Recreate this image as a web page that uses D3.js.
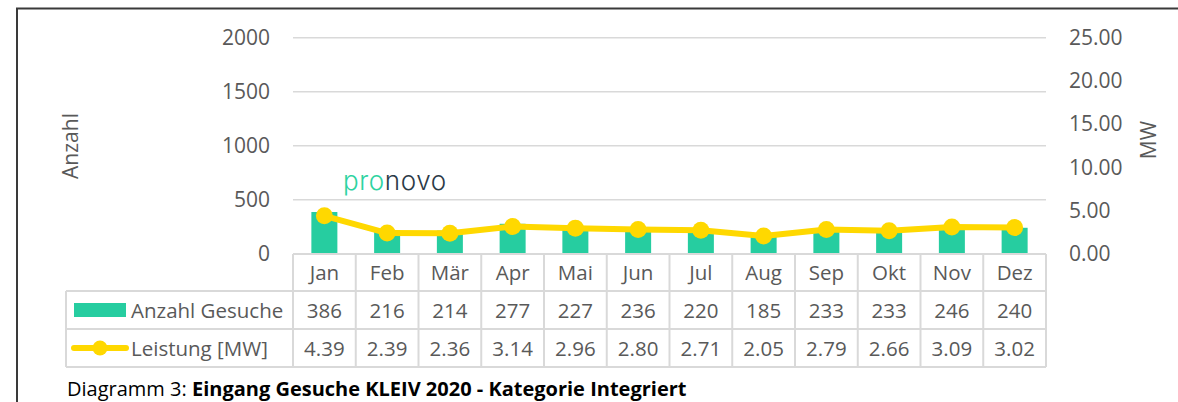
<!DOCTYPE html>
<html>
<head>
<meta charset="utf-8">
<script src="https://cdn.jsdelivr.net/npm/d3@7"></script>
<style>
  body { margin: 0; background: #fff; }
  svg { display: block; font-family: "Open Sans", sans-serif; }
</style>
</head>
<body>
<div id="chart"></div>
<script>
const width = 1178;
const height = 402;

const months = ["Jan", "Feb", "Mär", "Apr", "Mai", "Jun", "Jul", "Aug", "Sep", "Okt", "Nov", "Dez"];
const anzahl = [386, 216, 214, 277, 227, 236, 220, 185, 233, 233, 246, 240];
const leistung = [4.39, 2.39, 2.36, 3.14, 2.96, 2.80, 2.71, 2.05, 2.79, 2.66, 3.09, 3.02];
const leftTicks = [0, 500, 1000, 1500, 2000];
const rightTicks = [0, 5, 10, 15, 20, 25];
const seriesNames = ["Anzahl Gesuche", "Leistung [MW]"];

const barColor = "#26cda0";
const lineColor = "#ffd800";
const gridColor = "#d9d9d9";
const textColor = "#595959";

const plot = {left: 293, right: 1046, top: 37.7, bottom: 253.7};
const rows = [254, 291, 329, 367]; // table row edges
const tableLeft = 66;

const svg = d3.select("#chart").append("svg")
    .attr("width", width)
    .attr("height", height);

// outer frame (top and left only)
svg.append("path")
    .attr("d", `M17,${height} V8.5 H${width}`)
    .attr("fill", "none")
    .attr("stroke", "#3a3a3a")
    .attr("stroke-width", 2);

const x = d3.scaleBand().domain(months).range([plot.left, plot.right]).padding(0);
const yLeft = d3.scaleLinear().domain([0, 2000]).range([plot.bottom, plot.top]);
const yRight = d3.scaleLinear().domain([0, 25]).range([plot.bottom, plot.top]);

// gridlines
svg.append("g")
    .selectAll("line")
    .data(leftTicks.filter(d => d > 0))
    .join("line")
    .attr("x1", plot.left).attr("x2", plot.right)
    .attr("y1", d => yLeft(d)).attr("y2", d => yLeft(d))
    .attr("stroke", gridColor)
    .attr("stroke-width", 1.5);

// left axis
const leftAxis = svg.append("g")
    .attr("transform", `translate(${plot.left},0)`)
    .call(d3.axisLeft(yLeft).tickValues(leftTicks).tickSize(0).tickPadding(23).tickFormat(d3.format("d")));
leftAxis.select(".domain").remove();
leftAxis.selectAll("text")
    .attr("fill", textColor)
    .style("font-size", "21px")
    .style("font-family", "Open Sans");

// right axis
const rightAxis = svg.append("g")
    .attr("transform", `translate(${plot.right},0)`)
    .call(d3.axisRight(yRight).tickValues(rightTicks).tickSize(0).tickPadding(23).tickFormat(d3.format(".2f")));
rightAxis.select(".domain").remove();
rightAxis.selectAll("text")
    .attr("fill", textColor)
    .style("font-size", "21px")
    .style("font-family", "Open Sans");

// axis titles
svg.append("text")
    .attr("transform", `translate(78,146) rotate(-90)`)
    .attr("text-anchor", "middle")
    .attr("fill", textColor)
    .style("font-size", "21px")
    .text("Anzahl");
svg.append("text")
    .attr("transform", `translate(1156,140) rotate(-90)`)
    .attr("text-anchor", "middle")
    .attr("fill", textColor)
    .style("font-size", "21px")
    .text("MW");

// logo
const logo = svg.append("text")
    .attr("x", 343)
    .attr("y", 190)
    .style("font-family", "Inter")
    .style("font-size", "26px")
    .style("font-weight", 300)
    .style("letter-spacing", "0.6px");
logo.append("tspan").attr("fill", "#2ed3a1").text("pro");
logo.append("tspan").attr("fill", "#2b3a47").text("novo");

// bars
const barWidth = 26;
svg.append("g")
    .selectAll("rect")
    .data(anzahl)
    .join("rect")
    .attr("x", (d, i) => x(months[i]) + x.bandwidth() / 2 - barWidth / 2)
    .attr("y", d => yLeft(d))
    .attr("width", barWidth)
    .attr("height", d => yLeft(0) - yLeft(d))
    .attr("fill", barColor);

// line
const line = d3.line()
    .x((d, i) => x(months[i]) + x.bandwidth() / 2)
    .y(d => yRight(d));
svg.append("path")
    .attr("d", line(leistung))
    .attr("fill", "none")
    .attr("stroke", lineColor)
    .attr("stroke-width", 6)
    .attr("stroke-linejoin", "round");
svg.append("g")
    .selectAll("circle")
    .data(leistung)
    .join("circle")
    .attr("cx", (d, i) => x(months[i]) + x.bandwidth() / 2)
    .attr("cy", d => yRight(d))
    .attr("r", 8.5)
    .attr("fill", lineColor);

// data table
const table = svg.append("g")
    .attr("stroke", gridColor)
    .attr("stroke-width", 2)
    .attr("fill", "none");
table.append("line")
    .attr("x1", plot.left).attr("x2", plot.right)
    .attr("y1", rows[0]).attr("y2", rows[0]);
rows.slice(1).forEach(r => {
    table.append("line")
        .attr("x1", tableLeft).attr("x2", plot.right)
        .attr("y1", r).attr("y2", r);
});
table.append("line")
    .attr("x1", tableLeft).attr("x2", tableLeft)
    .attr("y1", rows[1]).attr("y2", rows[3]);
months.forEach(m => {
    table.append("line")
        .attr("x1", x(m)).attr("x2", x(m))
        .attr("y1", rows[0]).attr("y2", rows[3]);
});
table.append("line")
    .attr("x1", plot.right).attr("x2", plot.right)
    .attr("y1", rows[0]).attr("y2", rows[3]);

function rowText(values, rowIdx, fmt) {
    svg.append("g")
        .selectAll("text")
        .data(values)
        .join("text")
        .attr("x", (d, i) => x(months[i]) + x.bandwidth() / 2)
        .attr("y", (rows[rowIdx] + rows[rowIdx + 1]) / 2 + 7.5)
        .attr("text-anchor", "middle")
        .attr("fill", textColor)
        .style("font-size", "20.5px")
        .text(fmt);
}
rowText(months, 0, d => d);
rowText(anzahl, 1, d => d);
rowText(leistung, 2, d => d3.format(".2f")(d));

// legend keys
const rowMid1 = (rows[1] + rows[2]) / 2;
const rowMid2 = (rows[2] + rows[3]) / 2;
svg.append("rect")
    .attr("x", 74).attr("y", rowMid1 - 7)
    .attr("width", 52).attr("height", 14)
    .attr("fill", barColor);
svg.append("line")
    .attr("x1", 74).attr("x2", 126)
    .attr("y1", rowMid2).attr("y2", rowMid2)
    .attr("stroke", lineColor)
    .attr("stroke-width", 6)
    .attr("stroke-linecap", "round");
svg.append("circle")
    .attr("cx", 100).attr("cy", rowMid2)
    .attr("r", 7.5)
    .attr("fill", lineColor);
svg.append("text")
    .attr("x", 131).attr("y", rowMid1 + 7.5)
    .attr("fill", textColor)
    .style("font-size", "20.5px")
    .text(seriesNames[0]);
svg.append("text")
    .attr("x", 131).attr("y", rowMid2 + 7.5)
    .attr("fill", textColor)
    .style("font-size", "20.5px")
    .text(seriesNames[1]);

// caption
const caption = svg.append("text")
    .attr("x", 67)
    .attr("y", 396)
    .attr("fill", "#000")
    .style("font-size", "20px");
caption.append("tspan").text("Diagramm 3: ");
caption.append("tspan").style("font-weight", "bold").text("Eingang Gesuche KLEIV 2020 - Kategorie Integriert");
</script>
</body>
</html>
